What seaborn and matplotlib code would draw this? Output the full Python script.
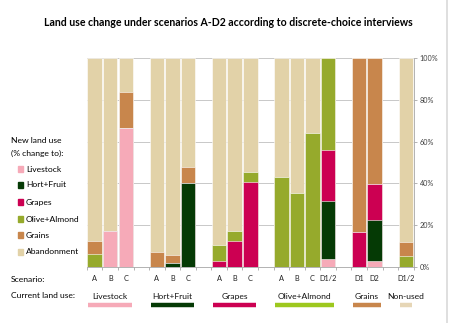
import matplotlib
matplotlib.use("Agg")
import matplotlib.pyplot as plt
import numpy as np
import pandas as pd
import seaborn as sns

# ---- data (percent of each bar) ----
positions = [0, 1, 2, 4, 5, 6, 8, 9, 10, 12, 13, 14, 15, 17, 18, 20]
scenarios = ["A", "B", "C", "A", "B", "C", "A", "B", "C", "A", "B", "C", "D1/2", "D1", "D2", "D1/2"]
livestock   = [0, 17.0, 66.5, 0, 0, 0, 0, 0, 0, 0, 0, 0, 3.8, 0, 2.9, 0]
hort_fruit  = [0, 0, 0, 0, 2.0, 40.3, 0, 0, 0, 0, 0, 0, 27.9, 0, 19.6, 0]
grapes      = [0, 0, 0, 0, 0, 0, 2.9, 12.4, 40.5, 0, 0, 0, 24.3, 16.6, 17.1, 0]
olive       = [6.4, 0, 0, 0, 0, 0, 7.6, 5.0, 5.1, 43.2, 35.6, 64.3, 44.0, 0, 0, 5.3]
grains      = [6.2, 0, 17.0, 7.3, 3.7, 7.7, 0, 0, 0, 0, 0, 0, 0, 83.4, 60.4, 6.8]
abandonment = [87.4, 83.0, 16.5, 92.7, 94.3, 52.0, 89.5, 82.6, 54.4, 56.8, 64.4, 35.7, 0, 0, 0, 87.9]

new_uses = ["Livestock", "Hort+Fruit", "Grapes", "Olive+Almond", "Grains", "Abandonment"]
current_uses = ["Livestock", "Hort+Fruit", "Grapes", "Olive+Almond", "Grains", "Non-used"]
current_groups = [[0, 1, 2], [4, 5, 6], [8, 9, 10], [12, 13, 14, 15], [17, 18], [20]]

seg_colors = ["#F6AAB8", "#053A05", "#CC0052", "#96AA2C", "#C8864C", "#E2D2A8"]
line_colors = ["#F6AAB8", "#053A05", "#CC0052", "#9DC81E", "#C8864C", "#E6D6B6"]

series = [livestock, hort_fruit, grapes, olive, grains, abandonment]

FONT = "Lato"
plt.rcParams["font.family"] = [FONT, "DejaVu Sans"]
FS = 6.1

fig = plt.figure(figsize=(4.52, 3.23), dpi=100)
ax = fig.add_axes([0.1923, 0.1734, 0.7228, 0.647])

# cumulative stacks, drawn from the top layer down
cum = np.cumsum(np.array(series), axis=0)
for i in range(len(series) - 1, -1, -1):
    df = pd.DataFrame({"pos": positions, "val": cum[i]})
    sns.barplot(data=df, x="pos", y="val", native_scale=True, width=0.93,
                color=seg_colors[i], saturation=1, edgecolor="white",
                linewidth=0.4, ax=ax, zorder=3)

ax.set_xlim(-0.5, 20.5)
ax.set_ylim(0, 100)
ax.set_xlabel("")
ax.set_ylabel("")
ax.set_xticks(np.arange(-0.5, 21, 1))
ax.set_xticklabels([])
ax.tick_params(axis="x", length=2.5, color="#A6A6A6", width=0.6)
ax.yaxis.tick_right()
ax.set_yticks([0, 20, 40, 60, 80, 100])
ax.set_yticklabels([f"{v}%" for v in [0, 20, 40, 60, 80, 100]], fontsize=5.2, color="#404040")
ax.tick_params(axis="y", length=2.5, color="#A6A6A6", width=0.6, pad=2)
ax.grid(axis="y", color="#BFBFBF", linewidth=0.6, zorder=0)
ax.set_axisbelow(True)
for s in ["top", "left"]:
    ax.spines[s].set_visible(False)
for s in ["bottom", "right"]:
    ax.spines[s].set_color("#A6A6A6")
    ax.spines[s].set_linewidth(0.6)

trans = ax.get_xaxis_transform()
# scenario labels
for p, s in zip(positions, scenarios):
    ax.text(p, -0.055, s, transform=trans, ha="center", va="center",
            fontsize=5.3, color="#222222")

# current land use labels and lines
for name, grp, col in zip(current_uses, current_groups, line_colors):
    c = (grp[0] + grp[-1]) / 2
    ax.text(c, -0.14, name, transform=trans, ha="center", va="center",
            fontsize=FS, color="#111111")
    ax.plot([grp[0] - 0.4, grp[-1] + 0.4], [-0.18, -0.18], transform=trans,
            color=col, linewidth=3.2, solid_capstyle="butt", clip_on=False)

# left legend
fig.text(11 / 452, 1 - 141 / 323, "New land use", fontsize=FS, va="center", ha="left")
fig.text(11 / 452, 1 - 153 / 323, "(% change to):", fontsize=FS, va="center", ha="left")
ys = [169, 185, 202, 219, 235, 252]
for name, col, y in zip(new_uses, seg_colors, ys):
    fig.patches.append(plt.Rectangle((18 / 452, 1 - (y + 2.6) / 323), 5.2 / 452, 5.2 / 323,
                                     transform=fig.transFigure, color=col, figure=fig))
    fig.text(26 / 452, 1 - y / 323, name, fontsize=FS, va="center", ha="left")
fig.text(11 / 452, 1 - 279 / 323, "Scenario:", fontsize=FS, va="center", ha="left")
fig.text(11 / 452, 1 - 295.5 / 323, "Current land use:", fontsize=FS, va="center", ha="left")

# title
fig.text(228 / 452, 1 - 22.5 / 323,
         "Land use change under scenarios A-D2 according to discrete-choice interviews",
         fontsize=7.6, fontweight="bold", ha="center", va="center")

# right border line of the chart area
fig.add_artist(plt.Line2D([447.5 / 452, 447.5 / 452], [0, 1], transform=fig.transFigure,
                          color="#D9D9D9", linewidth=1.2))

fig.savefig("out.png", dpi=100)
